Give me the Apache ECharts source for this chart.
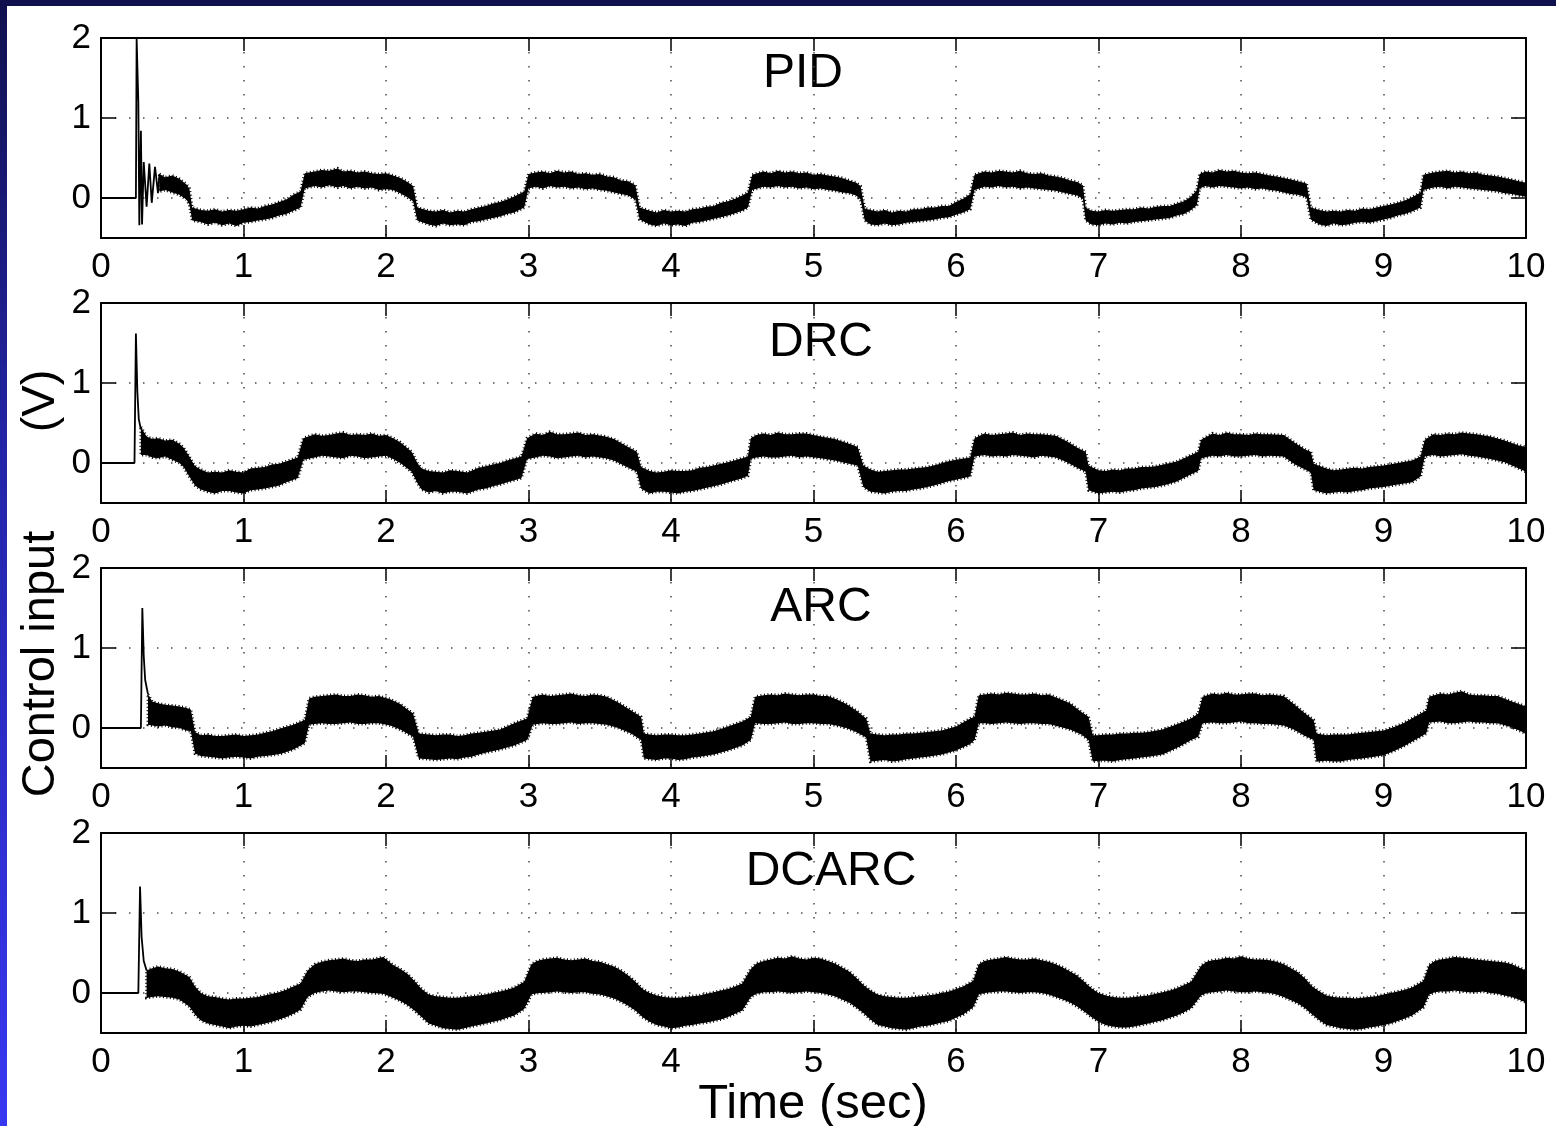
<!DOCTYPE html>
<html><head><meta charset="utf-8">
<script src="https://cdn.jsdelivr.net/npm/echarts@6/dist/echarts.min.js"></script>
<style>html,body{margin:0;padding:0;background:#fff;}#c{width:1556px;height:1126px;}</style>
</head><body><div id="c"></div>
<script>
// ---- data ----
const titles = ['PID', 'DRC', 'ARC', 'DCARC'];
const yTickValues = [0, 1, 2];
const xMin = 0, xMax = 10, yMin = -0.5, yMax = 2;
const xLabel = 'Time (sec)';
const yLabelMain = 'Control input';
const yLabelUnit = '(V)';

// initial transients [t, value]
const pidStart = [[0,0],[0.245,0],[0.25,2.0],[0.262,1.2],[0.269,-0.34],[0.28,0.84],[0.288,-0.33],[0.30,0.45],[0.309,0.47],[0.32,-0.11],[0.339,0.43],[0.356,-0.06],[0.379,0.39],[0.40,0.06],[0.41,0.30]];
const drcStart = [[0,0],[0.235,0],[0.245,1.62],[0.255,0.9],[0.265,0.55],[0.28,0.42]];
const arcStart = [[0,0],[0.28,0],[0.29,1.5],[0.30,0.9],[0.31,0.6],[0.33,0.42]];
const dcarcStart = [[0,0],[0.262,0],[0.274,1.33],[0.285,0.70],[0.30,0.40],[0.32,0.28]];

// noisy band envelopes [t, low, high]
const pidBand = [[0.41,0.08,0.30],[0.45,0.10,0.26],[0.50,0.07,0.28],[0.55,0.04,0.24],[0.60,-0.02,0.17],[0.62,-0.08,0.12],[0.64,-0.28,-0.12],[0.70,-0.30,-0.15],[0.75,-0.33,-0.16],[0.80,-0.31,-0.14],[0.85,-0.34,-0.17],[0.90,-0.32,-0.15],[0.95,-0.35,-0.16],[1.00,-0.31,-0.14],[1.05,-0.30,-0.12],[1.10,-0.28,-0.13],[1.15,-0.27,-0.10],[1.20,-0.25,-0.08],[1.25,-0.22,-0.05],[1.30,-0.20,-0.02],[1.35,-0.16,0.04],[1.40,-0.12,0.08],[1.43,0.12,0.31],[1.50,0.15,0.33],[1.55,0.13,0.35],[1.60,0.16,0.34],[1.66,0.13,0.37],[1.70,0.15,0.33],[1.75,0.12,0.34],[1.80,0.14,0.32],[1.85,0.12,0.33],[1.90,0.13,0.31],[1.95,0.10,0.30],[2.00,0.11,0.31],[2.05,0.10,0.28],[2.10,0.06,0.25],[2.15,0.01,0.20],[2.19,-0.04,0.15],[2.22,-0.28,-0.12],[2.30,-0.33,-0.16],[2.35,-0.35,-0.17],[2.40,-0.32,-0.15],[2.45,-0.34,-0.18],[2.50,-0.33,-0.16],[2.55,-0.34,-0.17],[2.60,-0.30,-0.14],[2.65,-0.29,-0.12],[2.70,-0.27,-0.10],[2.75,-0.25,-0.07],[2.80,-0.23,-0.05],[2.85,-0.20,-0.02],[2.90,-0.18,0.02],[2.97,-0.12,0.08],[3.00,0.12,0.30],[3.05,0.14,0.32],[3.10,0.12,0.33],[3.15,0.15,0.31],[3.20,0.13,0.34],[3.25,0.14,0.32],[3.30,0.12,0.33],[3.35,0.13,0.30],[3.40,0.11,0.31],[3.45,0.12,0.29],[3.50,0.10,0.30],[3.55,0.09,0.27],[3.60,0.07,0.26],[3.65,0.05,0.22],[3.70,0.03,0.21],[3.75,-0.02,0.16],[3.78,-0.27,-0.12],[3.85,-0.33,-0.16],[3.90,-0.35,-0.18],[3.95,-0.32,-0.15],[4.00,-0.34,-0.17],[4.05,-0.33,-0.16],[4.10,-0.35,-0.17],[4.15,-0.31,-0.14],[4.20,-0.30,-0.13],[4.25,-0.28,-0.11],[4.30,-0.26,-0.10],[4.35,-0.24,-0.06],[4.40,-0.22,-0.04],[4.45,-0.19,-0.01],[4.50,-0.16,0.03],[4.54,-0.12,0.07],[4.57,0.10,0.29],[4.65,0.14,0.33],[4.70,0.13,0.31],[4.75,0.15,0.34],[4.80,0.13,0.32],[4.85,0.14,0.33],[4.90,0.12,0.31],[4.95,0.13,0.32],[5.00,0.11,0.29],[5.05,0.12,0.30],[5.10,0.10,0.28],[5.15,0.09,0.27],[5.20,0.07,0.25],[5.25,0.06,0.22],[5.30,0.03,0.19],[5.33,-0.02,0.15],[5.36,-0.28,-0.13],[5.40,-0.33,-0.15],[5.45,-0.34,-0.17],[5.50,-0.32,-0.15],[5.55,-0.34,-0.18],[5.60,-0.33,-0.16],[5.65,-0.31,-0.17],[5.70,-0.30,-0.14],[5.75,-0.29,-0.14],[5.80,-0.28,-0.12],[5.85,-0.27,-0.12],[5.90,-0.25,-0.10],[5.95,-0.24,-0.10],[6.00,-0.21,-0.05],[6.05,-0.18,-0.01],[6.10,-0.14,0.05],[6.13,0.10,0.29],[6.20,0.14,0.33],[6.25,0.13,0.32],[6.30,0.15,0.34],[6.35,0.13,0.33],[6.40,0.14,0.32],[6.45,0.12,0.34],[6.50,0.13,0.31],[6.55,0.12,0.30],[6.60,0.11,0.31],[6.65,0.10,0.28],[6.70,0.09,0.27],[6.75,0.07,0.25],[6.80,0.05,0.22],[6.85,0.03,0.20],[6.89,-0.01,0.16],[6.91,-0.28,-0.12],[6.95,-0.33,-0.16],[7.00,-0.34,-0.17],[7.05,-0.32,-0.15],[7.10,-0.33,-0.16],[7.15,-0.31,-0.15],[7.20,-0.32,-0.14],[7.25,-0.30,-0.14],[7.30,-0.29,-0.12],[7.35,-0.28,-0.13],[7.40,-0.27,-0.11],[7.45,-0.26,-0.10],[7.50,-0.25,-0.10],[7.55,-0.22,-0.07],[7.60,-0.20,-0.04],[7.65,-0.15,0.02],[7.69,-0.09,0.10],[7.71,0.12,0.30],[7.75,0.15,0.33],[7.80,0.13,0.32],[7.85,0.15,0.35],[7.90,0.14,0.33],[7.95,0.13,0.34],[8.00,0.12,0.32],[8.05,0.13,0.31],[8.10,0.11,0.32],[8.15,0.12,0.30],[8.20,0.10,0.28],[8.25,0.09,0.27],[8.30,0.07,0.25],[8.35,0.05,0.23],[8.40,0.04,0.21],[8.46,0.01,0.18],[8.49,-0.27,-0.12],[8.55,-0.33,-0.15],[8.60,-0.35,-0.17],[8.65,-0.32,-0.16],[8.70,-0.34,-0.17],[8.75,-0.33,-0.15],[8.80,-0.31,-0.16],[8.85,-0.30,-0.13],[8.90,-0.31,-0.14],[8.95,-0.29,-0.12],[9.00,-0.27,-0.10],[9.05,-0.25,-0.08],[9.10,-0.22,-0.06],[9.15,-0.20,-0.03],[9.20,-0.17,0.01],[9.26,-0.12,0.07],[9.28,0.10,0.29],[9.35,0.13,0.32],[9.40,0.14,0.33],[9.45,0.12,0.34],[9.50,0.14,0.32],[9.55,0.13,0.33],[9.60,0.12,0.31],[9.65,0.11,0.32],[9.70,0.10,0.29],[9.75,0.09,0.28],[9.80,0.08,0.27],[9.85,0.06,0.25],[9.90,0.05,0.23],[9.95,0.03,0.21],[10.00,0.02,0.19]];

const drcBand = [[0.28,0.10,0.45],[0.32,0.10,0.33],[0.36,0.07,0.30],[0.40,0.06,0.31],[0.45,0.08,0.28],[0.50,0.04,0.29],[0.55,0.00,0.24],[0.58,-0.05,0.19],[0.62,-0.17,0.08],[0.66,-0.28,-0.04],[0.70,-0.33,-0.08],[0.75,-0.36,-0.12],[0.80,-0.38,-0.11],[0.85,-0.35,-0.12],[0.90,-0.35,-0.09],[0.95,-0.37,-0.11],[1.00,-0.38,-0.12],[1.05,-0.34,-0.07],[1.10,-0.33,-0.06],[1.15,-0.32,-0.05],[1.20,-0.30,-0.02],[1.25,-0.28,-0.01],[1.30,-0.24,0.02],[1.38,-0.19,0.07],[1.42,0.04,0.31],[1.50,0.07,0.36],[1.55,0.09,0.34],[1.60,0.08,0.35],[1.65,0.07,0.37],[1.70,0.06,0.38],[1.75,0.09,0.35],[1.80,0.08,0.36],[1.85,0.06,0.35],[1.90,0.07,0.37],[1.95,0.08,0.34],[2.00,0.09,0.35],[2.05,0.05,0.31],[2.10,0.00,0.26],[2.18,-0.11,0.14],[2.22,-0.25,0.00],[2.25,-0.33,-0.07],[2.30,-0.37,-0.10],[2.35,-0.35,-0.11],[2.40,-0.38,-0.12],[2.45,-0.36,-0.09],[2.50,-0.36,-0.10],[2.57,-0.38,-0.12],[2.65,-0.33,-0.06],[2.70,-0.32,-0.04],[2.75,-0.29,-0.02],[2.80,-0.27,0.00],[2.85,-0.24,0.03],[2.95,-0.19,0.08],[2.99,0.05,0.31],[3.05,0.07,0.37],[3.10,0.09,0.35],[3.15,0.08,0.39],[3.20,0.06,0.36],[3.25,0.07,0.36],[3.30,0.08,0.37],[3.35,0.09,0.38],[3.40,0.07,0.35],[3.45,0.08,0.36],[3.54,0.06,0.33],[3.60,0.03,0.30],[3.68,-0.04,0.22],[3.76,-0.11,0.14],[3.79,-0.32,-0.05],[3.85,-0.38,-0.10],[3.90,-0.36,-0.12],[3.95,-0.36,-0.11],[4.00,-0.37,-0.09],[4.05,-0.38,-0.10],[4.10,-0.36,-0.10],[4.15,-0.35,-0.09],[4.20,-0.33,-0.06],[4.25,-0.31,-0.05],[4.30,-0.29,-0.03],[4.35,-0.27,-0.01],[4.40,-0.24,0.01],[4.50,-0.19,0.06],[4.54,-0.16,0.08],[4.56,0.05,0.31],[4.60,0.07,0.35],[4.65,0.08,0.37],[4.70,0.07,0.35],[4.75,0.07,0.38],[4.80,0.08,0.36],[4.85,0.09,0.36],[4.90,0.07,0.37],[4.95,0.08,0.37],[5.05,0.06,0.33],[5.15,0.03,0.30],[5.25,-0.01,0.24],[5.31,-0.03,0.20],[5.35,-0.30,-0.03],[5.40,-0.36,-0.08],[5.45,-0.37,-0.11],[5.50,-0.38,-0.10],[5.55,-0.36,-0.09],[5.60,-0.35,-0.08],[5.65,-0.35,-0.08],[5.70,-0.33,-0.07],[5.75,-0.32,-0.06],[5.80,-0.30,-0.05],[5.87,-0.27,-0.02],[5.94,-0.23,0.02],[6.00,-0.21,0.04],[6.10,-0.17,0.07],[6.13,0.08,0.31],[6.20,0.10,0.37],[6.25,0.08,0.35],[6.30,0.09,0.36],[6.35,0.08,0.37],[6.40,0.10,0.38],[6.45,0.09,0.35],[6.50,0.08,0.37],[6.55,0.07,0.36],[6.60,0.09,0.36],[6.70,0.07,0.34],[6.78,0.01,0.27],[6.86,-0.07,0.18],[6.91,-0.11,0.14],[6.93,-0.34,-0.03],[7.00,-0.38,-0.09],[7.05,-0.37,-0.10],[7.10,-0.36,-0.08],[7.15,-0.37,-0.09],[7.20,-0.35,-0.07],[7.25,-0.34,-0.07],[7.30,-0.32,-0.05],[7.35,-0.31,-0.05],[7.40,-0.30,-0.04],[7.48,-0.27,-0.01],[7.55,-0.23,0.02],[7.65,-0.14,0.10],[7.70,-0.10,0.14],[7.72,0.06,0.29],[7.80,0.09,0.37],[7.85,0.08,0.35],[7.90,0.10,0.38],[7.95,0.08,0.36],[8.00,0.08,0.36],[8.05,0.09,0.35],[8.10,0.10,0.37],[8.15,0.08,0.36],[8.20,0.09,0.36],[8.30,0.08,0.35],[8.38,-0.02,0.25],[8.45,-0.08,0.17],[8.49,-0.12,0.14],[8.51,-0.34,-0.01],[8.60,-0.38,-0.07],[8.65,-0.37,-0.09],[8.70,-0.36,-0.08],[8.75,-0.37,-0.07],[8.80,-0.35,-0.06],[8.85,-0.34,-0.07],[8.90,-0.32,-0.05],[9.00,-0.30,-0.03],[9.10,-0.27,0.00],[9.20,-0.24,0.03],[9.26,-0.17,0.08],[9.29,0.08,0.29],[9.35,0.10,0.36],[9.40,0.08,0.35],[9.45,0.09,0.37],[9.50,0.10,0.36],[9.55,0.11,0.38],[9.60,0.09,0.37],[9.65,0.08,0.36],[9.75,0.05,0.33],[9.85,0.01,0.28],[9.95,-0.07,0.22],[10.00,-0.11,0.20]];

const arcBand = [[0.33,0.04,0.42],[0.36,0.03,0.33],[0.40,0.02,0.31],[0.45,0.03,0.29],[0.50,0.01,0.28],[0.55,0.00,0.27],[0.60,-0.03,0.25],[0.63,-0.04,0.23],[0.66,-0.32,-0.05],[0.70,-0.35,-0.09],[0.75,-0.36,-0.08],[0.80,-0.37,-0.10],[0.85,-0.38,-0.10],[0.90,-0.37,-0.09],[0.95,-0.36,-0.08],[1.00,-0.37,-0.10],[1.05,-0.38,-0.09],[1.10,-0.36,-0.08],[1.15,-0.35,-0.06],[1.20,-0.34,-0.04],[1.27,-0.32,0.00],[1.35,-0.27,0.04],[1.43,-0.19,0.10],[1.46,0.04,0.37],[1.50,0.05,0.39],[1.55,0.06,0.40],[1.60,0.05,0.41],[1.65,0.05,0.42],[1.70,0.06,0.40],[1.75,0.07,0.40],[1.80,0.05,0.42],[1.85,0.05,0.41],[1.90,0.06,0.39],[1.95,0.06,0.40],[2.03,0.03,0.36],[2.10,-0.02,0.30],[2.19,-0.11,0.18],[2.23,-0.38,-0.07],[2.30,-0.39,-0.08],[2.35,-0.40,-0.09],[2.40,-0.39,-0.08],[2.45,-0.38,-0.08],[2.50,-0.39,-0.10],[2.55,-0.37,-0.09],[2.60,-0.36,-0.07],[2.65,-0.33,-0.06],[2.72,-0.30,-0.04],[2.80,-0.27,-0.02],[2.90,-0.22,0.06],[2.99,-0.15,0.12],[3.03,0.04,0.39],[3.10,0.06,0.42],[3.15,0.05,0.40],[3.20,0.05,0.41],[3.25,0.06,0.42],[3.30,0.07,0.43],[3.35,0.05,0.41],[3.40,0.06,0.40],[3.45,0.06,0.42],[3.50,0.05,0.41],[3.55,0.04,0.39],[3.63,0.00,0.32],[3.72,-0.07,0.22],[3.79,-0.15,0.14],[3.81,-0.38,-0.07],[3.85,-0.39,-0.08],[3.90,-0.40,-0.09],[3.95,-0.38,-0.08],[4.00,-0.38,-0.08],[4.05,-0.40,-0.09],[4.10,-0.39,-0.09],[4.15,-0.37,-0.08],[4.20,-0.36,-0.07],[4.30,-0.33,-0.04],[4.40,-0.28,0.02],[4.50,-0.22,0.08],[4.56,-0.15,0.14],[4.59,0.06,0.39],[4.65,0.05,0.41],[4.70,0.05,0.42],[4.75,0.06,0.41],[4.80,0.07,0.43],[4.85,0.05,0.42],[4.90,0.05,0.41],[4.95,0.06,0.42],[5.00,0.06,0.42],[5.05,0.05,0.40],[5.10,0.05,0.40],[5.16,0.03,0.36],[5.23,0.00,0.30],[5.30,-0.05,0.22],[5.37,-0.12,0.12],[5.40,-0.42,-0.07],[5.45,-0.41,-0.08],[5.50,-0.40,-0.09],[5.55,-0.42,-0.08],[5.60,-0.41,-0.08],[5.65,-0.39,-0.07],[5.70,-0.38,-0.07],[5.75,-0.37,-0.06],[5.80,-0.36,-0.05],[5.90,-0.33,-0.03],[6.00,-0.28,0.02],[6.10,-0.20,0.12],[6.13,-0.15,0.14],[6.16,0.06,0.41],[6.20,0.06,0.42],[6.25,0.05,0.43],[6.30,0.06,0.42],[6.35,0.07,0.44],[6.40,0.06,0.43],[6.45,0.05,0.42],[6.50,0.06,0.42],[6.55,0.06,0.43],[6.60,0.05,0.41],[6.65,0.05,0.42],[6.72,0.02,0.37],[6.80,-0.02,0.31],[6.88,-0.08,0.20],[6.93,-0.15,0.14],[6.96,-0.42,-0.09],[7.00,-0.41,-0.09],[7.05,-0.41,-0.08],[7.10,-0.42,-0.08],[7.15,-0.40,-0.07],[7.20,-0.39,-0.07],[7.25,-0.38,-0.06],[7.30,-0.37,-0.06],[7.35,-0.36,-0.05],[7.45,-0.33,-0.02],[7.57,-0.23,0.06],[7.65,-0.15,0.12],[7.70,-0.11,0.18],[7.73,0.06,0.39],[7.80,0.07,0.43],[7.85,0.06,0.42],[7.90,0.06,0.44],[7.95,0.07,0.42],[8.00,0.08,0.42],[8.05,0.06,0.43],[8.10,0.06,0.43],[8.15,0.05,0.41],[8.20,0.05,0.42],[8.30,0.03,0.40],[8.37,-0.02,0.30],[8.45,-0.10,0.18],[8.51,-0.15,0.10],[8.53,-0.42,-0.07],[8.60,-0.41,-0.09],[8.65,-0.42,-0.08],[8.70,-0.42,-0.08],[8.75,-0.40,-0.08],[8.80,-0.39,-0.07],[8.85,-0.38,-0.06],[8.90,-0.37,-0.05],[9.00,-0.34,-0.03],[9.07,-0.29,0.01],[9.14,-0.23,0.06],[9.22,-0.15,0.14],[9.30,-0.07,0.22],[9.32,0.07,0.39],[9.40,0.08,0.43],[9.45,0.06,0.42],[9.50,0.06,0.44],[9.55,0.07,0.46],[9.60,0.08,0.42],[9.65,0.07,0.41],[9.70,0.07,0.41],[9.75,0.06,0.40],[9.80,0.06,0.40],[9.90,0.01,0.33],[10.00,-0.07,0.27]];

const dcarcBand = [[0.32,-0.06,0.28],[0.36,-0.05,0.31],[0.40,-0.04,0.33],[0.45,-0.05,0.31],[0.50,-0.06,0.30],[0.55,-0.08,0.27],[0.62,-0.17,0.20],[0.66,-0.27,0.08],[0.70,-0.34,0.00],[0.75,-0.38,-0.04],[0.80,-0.40,-0.05],[0.85,-0.42,-0.07],[0.90,-0.44,-0.08],[0.95,-0.42,-0.07],[1.00,-0.41,-0.07],[1.05,-0.42,-0.06],[1.10,-0.40,-0.05],[1.15,-0.38,-0.03],[1.20,-0.36,-0.01],[1.25,-0.33,0.01],[1.30,-0.30,0.04],[1.35,-0.26,0.08],[1.40,-0.21,0.12],[1.45,-0.05,0.28],[1.50,0.00,0.36],[1.55,0.02,0.39],[1.60,0.03,0.41],[1.65,0.02,0.42],[1.70,0.01,0.43],[1.75,0.02,0.41],[1.80,0.02,0.40],[1.85,0.01,0.42],[1.90,0.00,0.42],[1.98,-0.01,0.45],[2.05,-0.06,0.35],[2.10,-0.10,0.30],[2.15,-0.15,0.24],[2.20,-0.22,0.15],[2.25,-0.30,0.05],[2.30,-0.38,-0.02],[2.35,-0.41,-0.04],[2.40,-0.44,-0.05],[2.45,-0.45,-0.06],[2.50,-0.46,-0.06],[2.55,-0.44,-0.05],[2.60,-0.42,-0.04],[2.65,-0.40,-0.03],[2.70,-0.38,-0.02],[2.75,-0.36,0.00],[2.80,-0.34,0.02],[2.85,-0.31,0.04],[2.90,-0.28,0.07],[2.97,-0.20,0.14],[3.02,-0.02,0.36],[3.06,0.00,0.40],[3.10,0.00,0.42],[3.15,0.01,0.43],[3.20,0.02,0.44],[3.25,0.01,0.42],[3.30,0.00,0.41],[3.35,0.01,0.42],[3.40,0.01,0.43],[3.45,-0.01,0.40],[3.50,-0.02,0.39],[3.55,-0.04,0.36],[3.60,-0.07,0.33],[3.65,-0.11,0.28],[3.70,-0.16,0.22],[3.75,-0.22,0.14],[3.80,-0.30,0.05],[3.85,-0.36,0.00],[3.90,-0.40,-0.03],[3.95,-0.42,-0.05],[4.00,-0.44,-0.06],[4.05,-0.43,-0.06],[4.10,-0.41,-0.05],[4.15,-0.40,-0.04],[4.20,-0.38,-0.03],[4.25,-0.37,-0.01],[4.30,-0.35,0.01],[4.35,-0.33,0.03],[4.40,-0.30,0.05],[4.45,-0.26,0.08],[4.50,-0.22,0.12],[4.56,-0.05,0.30],[4.60,-0.01,0.37],[4.65,0.01,0.40],[4.70,0.01,0.42],[4.75,0.02,0.44],[4.80,0.01,0.43],[4.85,0.00,0.46],[4.90,0.01,0.43],[4.95,0.02,0.42],[5.00,0.01,0.44],[5.05,0.00,0.43],[5.10,-0.02,0.40],[5.15,-0.04,0.37],[5.20,-0.08,0.32],[5.25,-0.12,0.27],[5.30,-0.18,0.19],[5.35,-0.25,0.10],[5.40,-0.33,0.03],[5.45,-0.40,-0.02],[5.50,-0.42,-0.04],[5.55,-0.44,-0.05],[5.60,-0.45,-0.06],[5.65,-0.46,-0.06],[5.70,-0.44,-0.05],[5.75,-0.42,-0.04],[5.80,-0.41,-0.03],[5.85,-0.39,-0.02],[5.90,-0.37,0.00],[5.95,-0.35,0.02],[6.00,-0.31,0.05],[6.05,-0.27,0.08],[6.12,-0.18,0.15],[6.16,-0.02,0.36],[6.20,0.00,0.40],[6.25,0.01,0.42],[6.30,0.02,0.43],[6.35,0.02,0.45],[6.40,0.01,0.43],[6.45,0.00,0.42],[6.50,0.01,0.42],[6.55,0.01,0.43],[6.60,0.00,0.41],[6.65,-0.02,0.39],[6.70,-0.05,0.36],[6.75,-0.08,0.32],[6.80,-0.12,0.27],[6.85,-0.17,0.22],[6.90,-0.23,0.14],[6.95,-0.30,0.06],[7.00,-0.36,0.00],[7.05,-0.40,-0.03],[7.10,-0.42,-0.05],[7.15,-0.43,-0.06],[7.20,-0.43,-0.06],[7.25,-0.42,-0.05],[7.30,-0.40,-0.04],[7.35,-0.38,-0.03],[7.40,-0.36,-0.01],[7.45,-0.34,0.01],[7.50,-0.31,0.03],[7.55,-0.28,0.06],[7.60,-0.24,0.10],[7.65,-0.19,0.14],[7.72,-0.03,0.34],[7.76,0.00,0.39],[7.80,0.01,0.41],[7.85,0.02,0.42],[7.90,0.03,0.44],[7.95,0.02,0.43],[8.00,0.01,0.46],[8.05,0.01,0.43],[8.10,0.02,0.42],[8.15,0.01,0.42],[8.20,0.00,0.41],[8.25,-0.02,0.39],[8.30,-0.05,0.36],[8.35,-0.09,0.31],[8.40,-0.13,0.26],[8.45,-0.19,0.18],[8.50,-0.27,0.08],[8.55,-0.34,0.02],[8.60,-0.40,-0.03],[8.65,-0.42,-0.05],[8.70,-0.44,-0.06],[8.75,-0.45,-0.06],[8.80,-0.46,-0.07],[8.85,-0.45,-0.06],[8.90,-0.43,-0.05],[8.95,-0.42,-0.04],[9.00,-0.40,-0.02],[9.05,-0.38,0.00],[9.10,-0.35,0.02],[9.15,-0.32,0.04],[9.20,-0.28,0.07],[9.28,-0.18,0.15],[9.32,-0.02,0.35],[9.36,0.01,0.40],[9.40,0.02,0.42],[9.45,0.02,0.43],[9.50,0.03,0.45],[9.55,0.02,0.44],[9.60,0.01,0.43],[9.65,0.01,0.42],[9.70,0.02,0.41],[9.75,0.00,0.40],[9.80,-0.01,0.39],[9.85,-0.03,0.38],[9.90,-0.05,0.36],[9.95,-0.08,0.32],[10.00,-0.12,0.28]];

const starts = [pidStart, drcStart, arcStart, dcarcStart];
const bands = [pidBand, drcBand, arcBand, dcarcBand];

// ---- layout ----
const FONT = '"Liberation Sans", Arial, Helvetica, sans-serif';
const gridTops = [38, 303, 568, 833];
const titlePos = [[803, 74], [821, 343], [821, 608], [831, 872]];

const grids = [], xAxes = [], yAxes = [], series = [], graphics = [];
const axisLineStyle = { color: '#000', width: 2 };
const dotted = { color: '#4a4a4a', width: 1.5, type: [1.5, 12.5] };
const tickStyle = { color: '#000', width: 1.5 };

gridTops.forEach((top, i) => {
  grids.push({ left: 101, right: 30, top: top, height: 200, containLabel: false });
  xAxes.push({
    gridIndex: i, type: 'value', min: xMin, max: xMax, interval: 1, position: 'bottom',
    axisLine: { show: true, onZero: false, lineStyle: axisLineStyle },
    axisTick: { show: true, inside: true, length: 13, lineStyle: tickStyle },
    axisLabel: { show: true, margin: 12, color: '#000', fontSize: 35, fontFamily: FONT },
    splitLine: { show: true, lineStyle: dotted }
  });
  xAxes.push({
    gridIndex: i, type: 'value', min: xMin, max: xMax, interval: 1, position: 'top',
    axisLine: { show: true, onZero: false, lineStyle: axisLineStyle },
    axisTick: { show: true, inside: true, length: 13, lineStyle: tickStyle },
    axisLabel: { show: false }, splitLine: { show: false }
  });
  yAxes.push({
    gridIndex: i, type: 'value', min: yMin, max: yMax, position: 'left',
    axisLine: { show: true, onZero: false, lineStyle: axisLineStyle },
    axisTick: { show: true, inside: true, length: 15, customValues: yTickValues, lineStyle: tickStyle },
    axisLabel: { show: true, margin: 10, customValues: yTickValues, color: '#000', fontSize: 35, fontFamily: FONT },
    splitLine: { show: true, lineStyle: dotted }
  });
  yAxes.push({
    gridIndex: i, type: 'value', min: yMin, max: yMax, position: 'right',
    axisLine: { show: true, onZero: false, lineStyle: axisLineStyle },
    axisTick: { show: true, inside: true, length: 15, customValues: yTickValues, lineStyle: tickStyle },
    axisLabel: { show: false }, splitLine: { show: false }
  });

  const band = bands[i];
  series.push({
    type: 'custom', xAxisIndex: 2 * i, yAxisIndex: 2 * i, clip: true, silent: true,
    data: band,
    encode: { x: 0, y: [1, 2] },
    renderItem: function (params, api) {
      if (params.dataIndex !== 0) return null;
      const pts = [];
      for (let k = 0; k < band.length; k++) pts.push(api.coord([band[k][0], band[k][2]]));
      for (let k = band.length - 1; k >= 0; k--) pts.push(api.coord([band[k][0], band[k][1]]));
      return {
        type: 'polygon', shape: { points: pts },
        style: { fill: '#000', stroke: '#000', lineWidth: 3, lineDash: [1, 2.5] }
      };
    }
  });
  series.push({
    type: 'line', xAxisIndex: 2 * i, yAxisIndex: 2 * i, data: starts[i],
    showSymbol: false, symbol: 'none', silent: true, animation: false,
    lineStyle: { color: '#000', width: 1.8 }
  });

  graphics.push({
    type: 'text', x: titlePos[i][0], y: titlePos[i][1],
    style: { text: titles[i], fill: '#000', font: '48px ' + FONT, textAlign: 'center', textVerticalAlign: 'middle' }
  });
});

// slide border strips
graphics.unshift({
  type: 'rect', shape: { x: 0, y: 0, width: 1556, height: 6 }, style: { fill: '#10104e' }, z: -10
});
graphics.unshift({
  type: 'rect', shape: { x: 0, y: 0, width: 7, height: 1126 }, z: -10,
  style: { fill: new echarts.graphic.LinearGradient(0, 0, 0, 1, [
    { offset: 0, color: '#10104e' }, { offset: 0.4, color: '#2424a8' }, { offset: 1, color: '#3838f2' }]) }
});
graphics.push({
  type: 'text', x: 813, y: 1104,
  style: { text: xLabel, fill: '#000', font: '49px ' + FONT, textAlign: 'center', textVerticalAlign: 'middle' }
});
graphics.push({
  type: 'text', x: 41, y: 664, rotation: Math.PI / 2,
  style: { text: yLabelMain, fill: '#000', font: '47px ' + FONT, textAlign: 'center', textVerticalAlign: 'middle' }
});
graphics.push({
  type: 'text', x: 41, y: 401, rotation: Math.PI / 2,
  style: { text: yLabelUnit, fill: '#000', font: '47px ' + FONT, textAlign: 'center', textVerticalAlign: 'middle' }
});

const chart = echarts.init(document.getElementById('c'), null, { renderer: 'canvas' });
chart.setOption({
  backgroundColor: '#fff',
  animation: false,
  grid: grids, xAxis: xAxes, yAxis: yAxes, series: series,
  graphic: { elements: graphics }
});
</script></body></html>
